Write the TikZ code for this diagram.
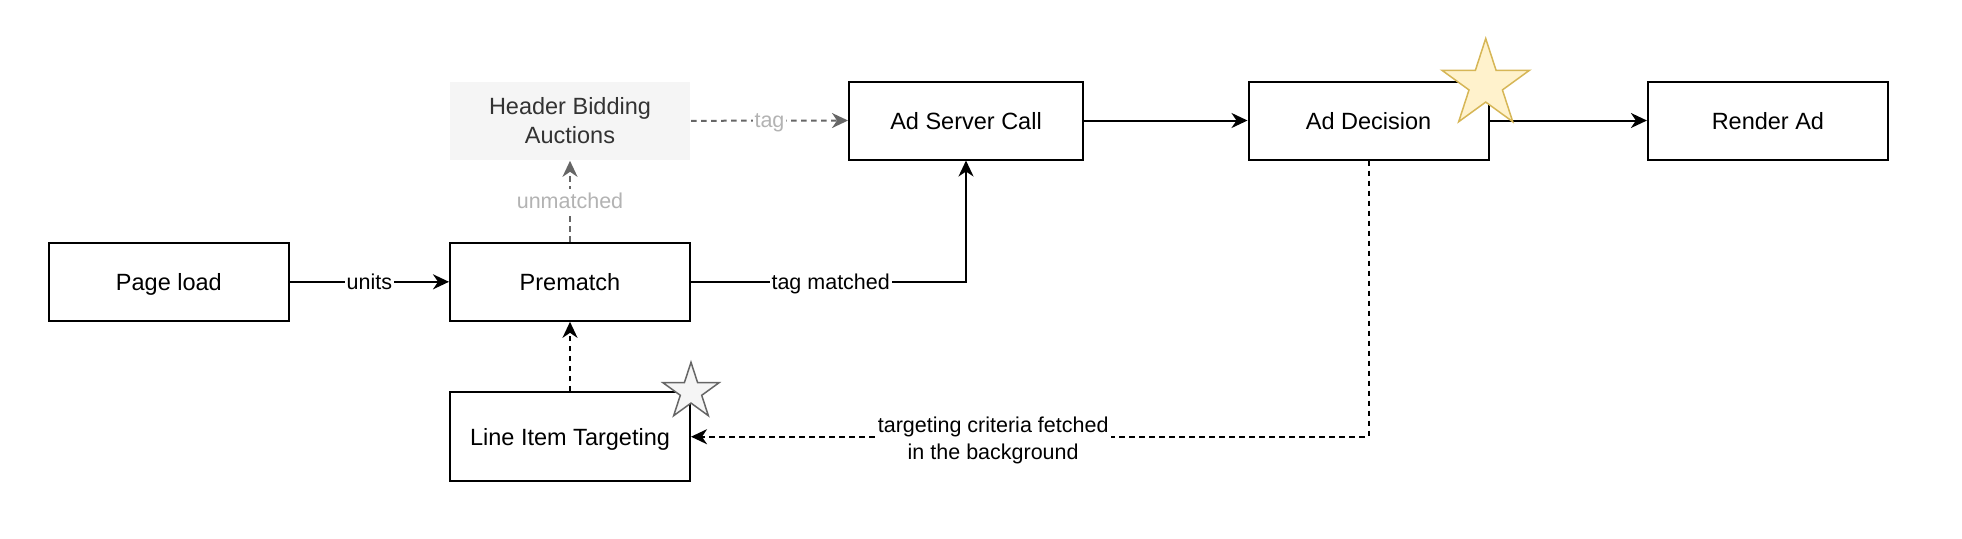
\documentclass[tikz,border=0pt]{standalone}
\usepackage{fontspec}
\setmainfont{Liberation Sans}
\usetikzlibrary{arrows.meta,shapes.geometric}
\definecolor{hbfill}{HTML}{F5F5F5}
\definecolor{hbtext}{HTML}{333333}
\definecolor{edgegray}{HTML}{666666}
\definecolor{lblgray}{HTML}{B3B3B3}
\definecolor{goldfill}{HTML}{FFF2CC}
\definecolor{goldline}{HTML}{D6B656}
\begin{document}
\begin{tikzpicture}[x=0.5pt,y=-0.5pt,
  boxbase/.style={draw=black, line width=1pt, minimum width=120pt, minimum height=39pt,
    inner sep=0pt, font=\fontsize{11.75}{14.5}\selectfont, align=center},
  box/.style={boxbase, text height=10.2pt, text depth=1.2pt},
  lblbase/.style={fill=white, inner sep=1pt, font=\fontsize{10.75}{13.35}\selectfont, align=center},
  lbl/.style={lblbase, text height=9pt, text depth=1.8pt},
  flow/.style={draw=black, line width=1pt, -{Stealth[length=8pt,width=7.5pt,inset=2.5pt]}},
  dashflow/.style={flow, dash pattern=on 2.75pt off 2.25pt},
  grayflow/.style={dashflow, draw=edgegray},
  starmark/.style={star, star points=5, star point ratio=2.618, inner sep=0pt, line width=0.75pt}
]
\useasboundingbox (0,0) rectangle (1962,538);

% nodes
\node[box] (pageload) at (168.9,281.8) {Page load};
\node[box] (prematch) at (570,281.8) {Prematch};
\node[boxbase, draw=none, fill=hbfill, text=hbtext] (hba) at (570,120.8) {Header Bidding\\Auctions};
\node[box, minimum width=117pt] (asc) at (966,120.5) {Ad Server Call};
\node[box] (addec) at (1368.5,120.5) {Ad Decision};
\node[box] (render) at (1767.9,120.5) {Render Ad};
\node[box, minimum height=44.5pt] (lit) at (570,436.7) {Line Item Targeting};

% connectors
\draw[flow] (pageload.east) -- node[lbl]{units} (prematch.west);
\draw[flow] (prematch.east) -| node[lbl,pos=0.254]{tag matched} (asc.south);
\draw[grayflow] (prematch.north) -- node[lbl,text=lblgray]{unmatched} (hba.south);
\draw[grayflow] (hba.east) -- node[lbl,text=lblgray]{tag} (asc.west);
\draw[dashflow] (lit.north) -- (prematch.south);
\draw[flow] (asc.east) -- (addec.west);
\draw[flow] (addec.east) -- (render.west);
\draw[dashflow] (addec.south) |- node[lblbase,pos=0.777,yshift=-2pt]{targeting criteria fetched\\in the background} (lit.east);

% stars
\node[starmark, draw=goldline, fill=goldfill, minimum size=46pt] (goldstar) at (1485.7,84.5) {};
\node[starmark, draw=edgegray, fill=hbfill, minimum size=29.5pt] (graystar) at (691,391.8) {};
\end{tikzpicture}
\end{document}
